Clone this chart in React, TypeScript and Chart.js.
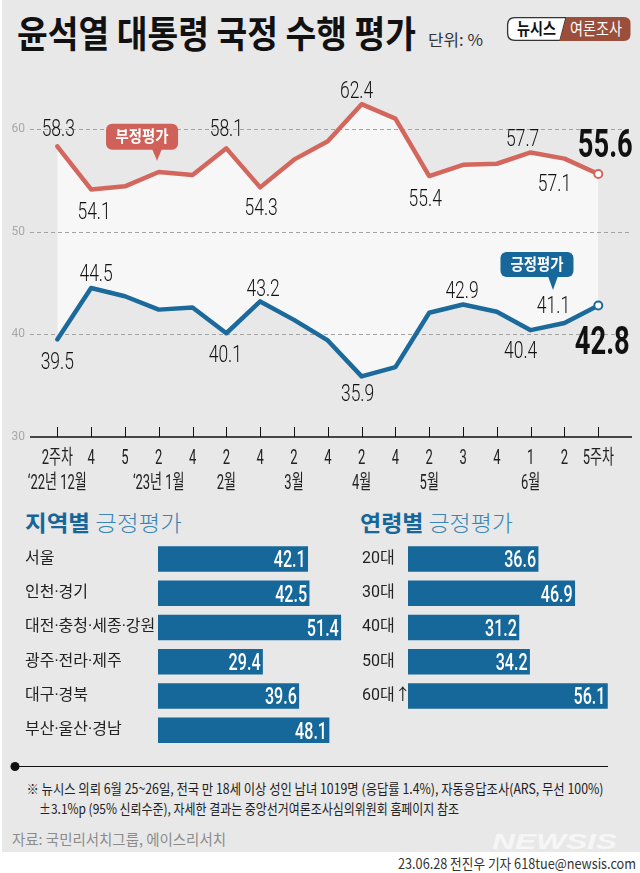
import React, { useEffect, useRef } from 'react';
import { Chart, registerables } from 'chart.js';

Chart.register(...registerables);

// ---------------- data ----------------
const weekLabels = ['2주차', '4', '5', '2', '4', '2', '4', '2', '4', '2', '4', '2', '3', '4', '1', '2', '5주차'];
const monthLabels = ['‘22년 12월', '', '', '‘23년 1월', '', '2월', '', '3월', '', '4월', '', '5월', '', '', '6월', '', ''];
const negativeRatings = [58.3, 54.1, 54.4, 55.8, 55.5, 58.1, 54.3, 57.0, 58.8, 62.4, 61.0, 55.4, 56.5, 56.6, 57.7, 57.1, 55.6];
const positiveRatings = [39.5, 44.5, 43.7, 42.4, 42.6, 40.1, 43.2, 41.4, 39.4, 35.9, 36.8, 42.1, 42.9, 42.2, 40.4, 41.1, 42.8];
const yTickValues = [30, 40, 50, 60];

const regionNames = ['서울', '인천·경기', '대전·충청·세종·강원', '광주·전라·제주', '대구·경북', '부산·울산·경남'];
const regionPositive = [42.1, 42.5, 51.4, 29.4, 39.6, 48.1];
const ageGroups = ['20대', '30대', '40대', '50대', '60대↑'];
const agePositive = [36.6, 46.9, 31.2, 34.2, 56.1];

// ---------------- styles ----------------
const BG = '#e8e8e8';
const FILL_BETWEEN = '#f7f7f7';
const RED = '#d4675d';
const BLUE = '#1c6a9b';
const BAR = '#16679a';
const NUM_FONT = 'Roboto, "Noto Sans CJK KR", sans-serif';
const KR_FONT = '"Noto Sans CJK KR", sans-serif';

// label offsets relative to point: [index, dx, dy]
const negLabelOffsets: number[][] = [[0, 1, -19], [1, 3, 21], [5, 0, -21], [6, 1, 19], [9, -5, -14], [11, -4, 22], [14, -8, -15], [15, -10, 24]];
const posLabelOffsets: number[][] = [[0, 0, 21], [1, 5, -15.5], [5, -1, 20], [6, 3, -14], [9, -4, 16], [12, -1, -14.5], [14, -10, 20], [15, -11, -18.5]];
const negLastOffset = [7, -31];
const posLastOffset = [4, 34];

// callouts: tip position in data units, box offsets in px
const negCallout = { text: '부정평가', tipX: 2.95, tipY: 56.9, dx: -15, gap: 11, w: 72, h: 26, color: '#cf6159' };
const posCallout = { text: '긍정평가', tipX: 14.66, tipY: 44.3, dx: -16, gap: 13, w: 73, h: 25, color: '#17679a' };

function drawText(
  ctx: CanvasRenderingContext2D,
  text: string,
  cx: number,
  cy: number,
  size: number,
  opts: { weight?: string; color?: string; align?: string; sx?: number; family?: string } = {}
) {
  const { weight = 'normal', color = '#222', align = 'center', sx = 1, family = NUM_FONT } = opts;
  ctx.save();
  ctx.font = `${weight} ${size}px ${family}`;
  ctx.fillStyle = color;
  ctx.textBaseline = 'alphabetic';
  ctx.textAlign = 'left';
  const w = ctx.measureText(text).width * sx;
  const left = align === 'center' ? cx - w / 2 : align === 'right' ? cx - w : cx;
  ctx.translate(left, cy + size * 0.36);
  ctx.scale(sx, 1);
  ctx.fillText(text, 0, 0);
  ctx.restore();
}

function drawCallout(ctx: CanvasRenderingContext2D, chart: any, c: typeof negCallout) {
  const xs = chart.scales.x;
  const ys = chart.scales.y;
  const tx = xs.getPixelForValue(c.tipX);
  const ty = ys.getPixelForValue(c.tipY);
  const cx = tx + c.dx;
  const bottom = ty - c.gap;
  ctx.save();
  ctx.fillStyle = c.color;
  ctx.beginPath();
  (ctx as any).roundRect(cx - c.w / 2, bottom - c.h, c.w, c.h, 6);
  ctx.fill();
  ctx.beginPath();
  ctx.moveTo(tx - 5, bottom - 1);
  ctx.lineTo(tx + 5, bottom - 1);
  ctx.lineTo(tx, ty);
  ctx.closePath();
  ctx.fill();
  ctx.restore();
  drawText(ctx, c.text, cx, bottom - c.h / 2 - 0.5, 16, { weight: 'bold', color: '#fff', sx: 0.9, family: KR_FONT });
}

const lineDecor = {
  id: 'lineDecor',
  beforeDatasetsDraw(chart: any) {
    const { ctx, chartArea } = chart;
    const ys = chart.scales.y;
    ctx.save();
    ctx.strokeStyle = '#a3a3a3';
    ctx.lineWidth = 1;
    ctx.setLineDash([4, 3]);
    yTickValues.slice(1).forEach((v) => {
      const py = Math.round(ys.getPixelForValue(v)) + 0.5;
      ctx.beginPath();
      ctx.moveTo(chartArea.left, py);
      ctx.lineTo(chartArea.right, py);
      ctx.stroke();
    });
    ctx.restore();
  },
  afterDatasetsDraw(chart: any) {
    const { ctx, chartArea } = chart;
    const xs = chart.scales.x;
    const ys = chart.scales.y;
    const base = ys.getPixelForValue(yTickValues[0]);
    ctx.save();
    ctx.strokeStyle = '#111';
    ctx.lineWidth = 1.5;
    ctx.beginPath();
    ctx.moveTo(chartArea.left, base);
    ctx.lineTo(chartArea.right, base);
    ctx.stroke();
    ctx.lineWidth = 1;
    weekLabels.forEach((_, i) => {
      const px = Math.round(xs.getPixelForValue(i)) + 0.5;
      ctx.beginPath();
      ctx.moveTo(px, base);
      ctx.lineTo(px, base - 10);
      ctx.stroke();
    });
    ctx.restore();
    weekLabels.forEach((lab, i) => {
      const px = xs.getPixelForValue(i);
      drawText(ctx, lab, px, base + 20, 20, { sx: 0.65 });
      if (monthLabels[i]) drawText(ctx, monthLabels[i], px, base + 45, 20, { sx: 0.65 });
    });

    const metaNeg = chart.getDatasetMeta(0);
    const metaPos = chart.getDatasetMeta(1);
    negLabelOffsets.forEach(([i, dx, dy]) => {
      const p = metaNeg.data[i];
      drawText(ctx, negativeRatings[i].toFixed(1), p.x + dx, p.y + dy, 23, { weight: '300', sx: 0.76, color: '#111' });
    });
    posLabelOffsets.forEach(([i, dx, dy]) => {
      const p = metaPos.data[i];
      drawText(ctx, positiveRatings[i].toFixed(1), p.x + dx, p.y + dy, 23, { weight: '300', sx: 0.76, color: '#111' });
    });
    const ln = negativeRatings.length - 1;
    const pn = metaNeg.data[ln];
    drawText(ctx, negativeRatings[ln].toFixed(1), pn.x + negLastOffset[0], pn.y + negLastOffset[1], 39, { weight: 'bold', sx: 0.7, color: '#111' });
    const lp = positiveRatings.length - 1;
    const pp = metaPos.data[lp];
    drawText(ctx, positiveRatings[lp].toFixed(1), pp.x + posLastOffset[0], pp.y + posLastOffset[1], 39, { weight: 'bold', sx: 0.7, color: '#111' });

    drawCallout(ctx, chart, negCallout);
    drawCallout(ctx, chart, posCallout);
  },
};

const barLabels = {
  id: 'barLabels',
  afterDatasetsDraw(chart: any) {
    const ctx = chart.ctx;
    const meta = chart.getDatasetMeta(0);
    const vals = chart.data.datasets[0].data as number[];
    meta.data.forEach((bar: any, i: number) => {
      drawText(ctx, vals[i].toFixed(1), bar.x - 2, bar.y, 23, { weight: '500', color: '#fff', align: 'right', sx: 0.7 });
    });
  },
};

function LineChart() {
  const ref = useRef<HTMLCanvasElement>(null);
  useEffect(() => {
    const last = negativeRatings.length - 1;
    const chart = new Chart(ref.current as HTMLCanvasElement, {
      type: 'line',
      data: {
        datasets: [
          {
            label: '부정평가',
            data: negativeRatings.map((v, i) => ({ x: i, y: v })),
            borderColor: RED,
            borderWidth: 4.5,
            borderJoinStyle: 'round',
            borderCapStyle: 'round',
            tension: 0,
            pointRadius: negativeRatings.map((_, i) => (i === last ? 4 : 0)),
            pointBackgroundColor: '#fff',
            pointBorderColor: RED,
            pointBorderWidth: 2,
            fill: { target: 1 },
            backgroundColor: FILL_BETWEEN,
          },
          {
            label: '긍정평가',
            data: positiveRatings.map((v, i) => ({ x: i, y: v })),
            borderColor: BLUE,
            borderWidth: 4.5,
            borderJoinStyle: 'round',
            borderCapStyle: 'round',
            tension: 0,
            pointRadius: positiveRatings.map((_, i) => (i === last ? 4 : 0)),
            pointBackgroundColor: '#fff',
            pointBorderColor: BLUE,
            pointBorderWidth: 2,
            fill: false,
          },
        ],
      } as any,
      options: {
        animation: false,
        responsive: false,
        maintainAspectRatio: false,
        layout: { padding: { top: 10, right: 8, left: 0, bottom: 0 } },
        plugins: {
          legend: { display: false },
          tooltip: { enabled: false },
          filler: { drawTime: 'beforeDatasetsDraw' },
        } as any,
        scales: {
          x: {
            type: 'linear',
            min: -0.807,
            max: 16.997,
            grid: { display: false, drawTicks: false },
            border: { display: false },
            ticks: { display: false },
            afterFit: (s: any) => {
              s.height = 63;
            },
          },
          y: {
            min: 30,
            max: 66,
            afterBuildTicks: (a: any) => {
              a.ticks = yTickValues.map((v) => ({ value: v }));
            },
            grid: { display: false, drawTicks: false },
            border: { display: false },
            ticks: { color: '#a8a8a8', font: { size: 12, family: 'Roboto' }, padding: 5 },
            afterFit: (s: any) => {
              s.width = 30;
            },
          },
        },
      } as any,
      plugins: [lineDecor],
    });
    return () => chart.destroy();
  }, []);
  return <canvas ref={ref} width={640} height={445} style={{ position: 'absolute', left: 0, top: 55, width: 640, height: 445 }} />;
}

function BarChart(props: { labels: string[]; values: number[]; max: number; left: number; top: number; width: number; height: number; padLeft: number; padTop: number; padBottom: number; axisWidth: number }) {
  const ref = useRef<HTMLCanvasElement>(null);
  useEffect(() => {
    const chart = new Chart(ref.current as HTMLCanvasElement, {
      type: 'bar',
      data: {
        labels: props.labels,
        datasets: [{ data: props.values, backgroundColor: BAR, barThickness: 25 }],
      },
      options: {
        indexAxis: 'y',
        animation: false,
        responsive: false,
        maintainAspectRatio: false,
        layout: { padding: { left: props.padLeft, top: props.padTop, bottom: props.padBottom, right: 0 } },
        plugins: { legend: { display: false }, tooltip: { enabled: false } },
        scales: {
          x: { display: false, min: 0, max: props.max },
          y: {
            grid: { display: false, drawTicks: false },
            border: { display: false },
            ticks: { crossAlign: 'far', color: '#222', font: { size: 16, family: 'Roboto, "Noto Sans CJK KR"' }, padding: 0, autoSkip: false },
            afterFit: (s: any) => {
              s.width = props.axisWidth;
            },
          },
        },
      } as any,
      plugins: [barLabels],
    });
    return () => chart.destroy();
  }, []);
  return (
    <canvas
      ref={ref}
      width={props.width}
      height={props.height}
      style={{ position: 'absolute', left: props.left, top: props.top, width: props.width, height: props.height }}
    />
  );
}

export default function App() {
  return (
    <div style={{ position: 'absolute', left: 0, top: 0, width: 640, height: 873, background: BG, overflow: 'hidden' }}>
      <svg width={640} height={873} style={{ position: 'absolute', left: 0, top: 0 }} fontFamily={KR_FONT}>
        <rect x={0} y={0} width={2} height={852} fill="#fff" />
        <rect x={0} y={852} width={640} height={21} fill="#fff" />
        {/* title */}
        <text x={17} y={48} fontSize={37} fontWeight={700} fill="#111" textLength={399} lengthAdjust="spacingAndGlyphs">
          윤석열 대통령 국정 수행 평가
        </text>
        <text x={428} y={46} fontSize={16} fill="#333" textLength={55} lengthAdjust="spacingAndGlyphs">
          단위: %
        </text>
        {/* logo */}
        <path d="M 566 17.6 L 515 17.6 Q 507.6 17.6 507.6 25 L 507.6 33 Q 507.6 40.4 515 40.4 L 560 40.4 Z" fill="#fff" stroke="#333" strokeWidth={1.3} />
        <path d="M 566.5 17 L 624 17 Q 630.5 17 630.5 23.5 L 630.5 34.5 Q 630.5 41 624 41 L 559.5 41 Z" fill="#9b4e39" />
        <text x={517} y={34.5} fontSize={16.5} fontWeight={700} fill="#111" textLength={39} lengthAdjust="spacingAndGlyphs">
          뉴시스
        </text>
        <text x={570} y={34.5} fontSize={16.5} fill="#fff" textLength={52} lengthAdjust="spacingAndGlyphs">
          여론조사
        </text>
        {/* section titles */}
        <text x={25} y={531} fontSize={22} textLength={157} lengthAdjust="spacingAndGlyphs">
          <tspan fontWeight={700} fill="#17669a">지역별</tspan>
          <tspan fontWeight={300} fill="#3a85b6"> 긍정평가</tspan>
        </text>
        <text x={360} y={531} fontSize={22} textLength={153} lengthAdjust="spacingAndGlyphs">
          <tspan fontWeight={700} fill="#17669a">연령별</tspan>
          <tspan fontWeight={300} fill="#3a85b6"> 긍정평가</tspan>
        </text>
        {/* footer */}
        <line x1={15} y1={766.5} x2={608} y2={766.5} stroke="#111" strokeWidth={1.2} />
        <circle cx={15} cy={766.5} r={4.5} fill="#111" />
        <text x={26.5} y={794} fontSize={14} fill="#222" textLength={577} lengthAdjust="spacingAndGlyphs">
          ※ 뉴시스 의뢰 6월 25~26일, 전국 만 18세 이상 성인 남녀 1019명 (응답률 1.4%), 자동응답조사(ARS, 무선 100%)
        </text>
        <text x={39} y={814} fontSize={14} fill="#222" textLength={420} lengthAdjust="spacingAndGlyphs">
          ±3.1%p (95% 신뢰수준), 자세한 결과는 중앙선거여론조사심의위원회 홈페이지 참조
        </text>
        <text x={12} y={844.5} fontSize={15} fill="#8c8c8c" textLength={214} lengthAdjust="spacingAndGlyphs">
          자료: 국민리서치그룹, 에이스리서치
        </text>
        <text x={492} y={849} fontSize={22} fontWeight={700} fontStyle="italic" fontFamily='"Liberation Sans", Arial, sans-serif' fill="#f6f6f6" textLength={125} lengthAdjust="spacingAndGlyphs">
          NEWSIS
        </text>
        <text x={636} y={869} fontSize={14} fill="#333" textAnchor="end" textLength={238} lengthAdjust="spacingAndGlyphs">
          23.06.28 전진우 기자 618tue@newsis.com
        </text>
      </svg>
      <LineChart />
      <BarChart labels={regionNames} values={regionPositive} max={54} left={0} top={530} width={350} height={230} padLeft={25} padTop={11.85} padBottom={12.65} axisWidth={133} />
      <BarChart labels={ageGroups} values={agePositive} max={60.2} left={330} top={530} width={292} height={196} padLeft={32} padTop={11.85} padBottom={12.9} axisWidth={46} />
    </div>
  );
}
